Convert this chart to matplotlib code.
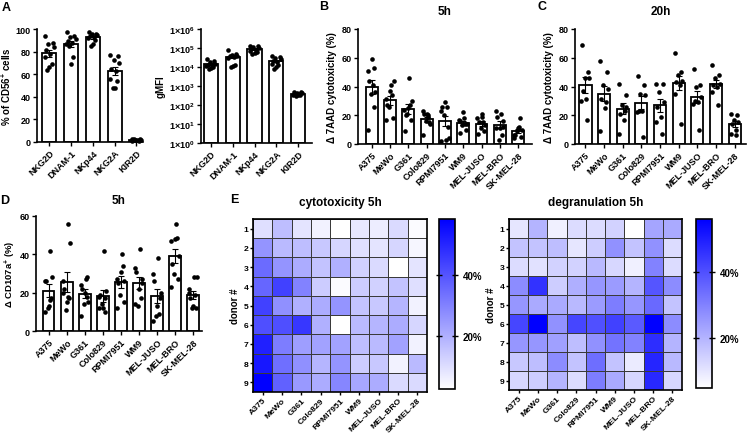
import numpy as np
import matplotlib
matplotlib.use('Agg')
import matplotlib.pyplot as plt
from matplotlib.colors import LinearSegmentedColormap

plt.rcParams['font.family'] = ['Liberation Sans', 'DejaVu Sans']
plt.rcParams['font.weight'] = 'bold'
plt.rcParams['axes.labelweight'] = 'bold'
plt.rcParams['mathtext.fontset'] = 'custom'
plt.rcParams['mathtext.rm'] = 'Liberation Sans:bold'
plt.rcParams['mathtext.it'] = 'Liberation Sans:bold'
plt.rcParams['mathtext.bf'] = 'Liberation Sans:bold'
plt.rcParams['axes.linewidth'] = 1.2
plt.rcParams['xtick.major.width'] = 1.0
plt.rcParams['ytick.major.width'] = 1.0
plt.rcParams['xtick.major.size'] = 3
plt.rcParams['ytick.major.size'] = 3

# ---- data ----
markers = ['NKG2D', 'DNAM-1', 'NKp44', 'NKG2A', 'KIR2D']
pct_cd56 = [
    [94, 88, 87, 84, 81, 78, 75, 69, 66, 64],
    [97, 94, 93, 91, 89, 88, 87, 75, 69, 85],
    [97, 96, 96, 95, 94, 93, 92, 90, 87, 85],
    [77, 76, 73, 70, 65, 63, 56, 54, 48, 48],
    [3, 2.5, 2, 2, 1.5, 1.5, 1, 1, 2, 3],
]
gmfi = [
    [2.5e4, 2.0e4, 1.8e4, 1.5e4, 1.3e4, 1.2e4, 1.1e4, 1.0e4, 9e3, 8e3],
    [8e4, 5e4, 4.5e4, 4e4, 3.8e4, 3.5e4, 3e4, 1.2e4, 1.1e4, 1.0e4],
    [1.3e5, 1.2e5, 1.1e5, 1e5, 9e4, 8e4, 7e4, 6e4, 5.5e4, 5e4],
    [4e4, 3.5e4, 3e4, 2.5e4, 2e4, 1.8e4, 1.5e4, 1.2e4, 1e4, 8e3],
    [500, 480, 450, 420, 400, 380, 350, 330, 320, 300],
]

cell_lines = ['A375', 'MeWo', 'G361', 'Colo829', 'RPMI7951', 'WM9',
              'MEL-JUSO', 'MEL-BRO', 'SK-MEL-28']
donors = ['1', '2', '3', '4', '5', '6', '7', '8', '9']

# per cell line, donor 1..9
cyto_5h = [
    [10, 26, 35, 36, 44, 41, 51, 53, 59],
    [17, 18, 26, 44, 27, 41, 31, 34, 37],
    [9, 17, 21, 30, 20, 46, 24, 27, 25],
    [6, 15, 16, 14, 21, 20, 23, 19, 21],
    [2, 12, 20, 4, 26, 3, 23, 26, 29],
    [8, 10, 13, 14, 16, 18, 17, 14, 22],
    [7, 9, 11, 13, 15, 19, 18, 15, 21],
    [11, 12, 3, 16, 19, 21, 23, 6, 11],
    [4, 5, 9, 10, 6, 12, 6, 18, 11],
]
cyto_20h = [
    [69, 50, 46, 46, 37, 31, 30, 17],
    [58, 50, 41, 38, 31, 25, 9, 29],
    [42, 34, 27, 26, 21, 17, 7, 23],
    [47, 41, 35, 34, 23, 23, 22, 5],
    [42, 42, 36, 29, 26, 19, 15, 7],
    [63, 50, 48, 44, 43, 41, 35, 14],
    [52, 41, 40, 33, 30, 29, 28, 10],
    [55, 48, 46, 42, 41, 40, 36, 27],
    [21, 20, 17, 15, 14, 10, 7, 6],
]
degran_5h = [
    [10, 17, 12, 28, 26, 42, 26, 16, 13],
    [20, 17, 11, 46, 22, 56, 26, 18, 15],
    [8, 18, 14, 15, 22, 27, 24, 28, 20],
    [12, 10, 14, 21, 19, 42, 18, 17, 12],
    [12, 15, 19, 26, 25, 40, 27, 34, 31],
    [14, 27, 13, 25, 31, 43, 33, 17, 22],
    [5, 17, 8, 20, 26, 38, 30, 9, 13],
    [23, 27, 30, 39, 35, 56, 47, 48.5, 48],
    [22, 12, 12, 28, 17, 28, 20, 19, 13],
]

W, H = 747, 435
FS = 6.5
jitter = np.array([-0.2, 0.15, -0.05, 0.2, -0.15, 0.05, -0.22, 0.1, 0.0, -0.1])
cmap = LinearSegmentedColormap.from_list('wb', ['#ffffff', '#0000ff'])


def box(x0, y0, x1, y1):
    return [x0 / W, 1 - y1 / H, (x1 - x0) / W, (y1 - y0) / H]


def style(ax):
    ax.spines['top'].set_visible(False)
    ax.spines['right'].set_visible(False)
    ax.tick_params(labelsize=FS, pad=1.5)


def bar_dots(ax, labels, data, bottom=0.0):
    for i, vals in enumerate(data):
        vals = np.asarray(vals, float)
        m = vals.mean()
        sem = vals.std(ddof=1) / np.sqrt(len(vals))
        ax.bar(i, m - bottom, bottom=bottom, width=0.65, color='white',
               edgecolor='black', linewidth=1.3, zorder=2)
        ax.scatter(i + jitter[:len(vals)], vals, s=11, color='black',
                   linewidths=0, zorder=3, clip_on=False)
        ax.errorbar(i, m, yerr=sem, color='black', capsize=2.5,
                    elinewidth=0.8, capthick=0.8, zorder=4)
    ax.set_xticks(np.arange(len(labels)))
    ax.set_xticklabels(labels, rotation=45, ha='right', rotation_mode='anchor')
    style(ax)


def heat(fig, ax, cax, data, vmin, vmax, title):
    mat = np.array(data, float).T  # rows = donors
    mesh = ax.pcolormesh(mat, cmap=cmap, vmin=vmin, vmax=vmax,
                         edgecolors='#3a3a3a', linewidth=0.6)
    ax.set_xlim(0, 9)
    ax.set_ylim(9, 0)
    ax.set_xticks(np.arange(9) + 0.5)
    ax.set_xticklabels(cell_lines, rotation=45, ha='right', rotation_mode='anchor')
    ax.set_yticks(np.arange(9) + 0.5)
    ax.set_yticklabels(donors)
    ax.tick_params(labelsize=6.1, length=2, pad=1.2)
    ax.set_ylabel('donor #', fontsize=FS + 0.5, labelpad=3)
    ax.set_title(title, fontsize=8.5, fontweight='bold', pad=10)
    cb = fig.colorbar(mesh, cax=cax, ticks=[20, 40], format='%d%%')
    cb.outline.set_linewidth(1.2)
    cax.tick_params(labelsize=FS + 0.5, direction='inout', length=4, width=1,
                    left=True, right=True)


def main():
    fig = plt.figure(figsize=(W / 100, H / 100), dpi=100)

    # A left
    ax = fig.add_axes(box(37, 30, 143, 143))
    bar_dots(ax, markers, pct_cd56)
    ax.set_xlim(-0.57, 4.3)
    ax.set_ylim(0, 100)
    ax.set_yticks([0, 20, 40, 60, 80, 100])
    ax.set_ylabel('% of CD56$^{+}$ cells', fontsize=FS + 0.5, labelpad=2)

    # A right
    ax = fig.add_axes(box(201, 30, 312, 144))
    ax.set_yscale('log')
    bar_dots(ax, markers, gmfi, bottom=1.0)
    ax.set_xlim(-0.46, 4.64)
    ax.set_ylim(1, 1e6)
    ax.set_yticks([10.0 ** k for k in range(7)])
    ax.set_yticklabels([r'$1{\times}10^{%d}$' % k for k in range(7)])
    ax.minorticks_off()
    ax.set_ylabel('gMFI', fontsize=FS + 0.5, labelpad=2)

    # B
    ax = fig.add_axes(box(358, 30, 532, 145))
    bar_dots(ax, cell_lines, cyto_5h)
    ax.set_xlim(-0.75, 8.76)
    ax.set_ylim(0, 80)
    ax.set_yticks([0, 20, 40, 60, 80])
    ax.set_ylabel('\u0394 7AAD cytotoxicity (%)', fontsize=FS + 0.5, labelpad=3)
    ax.set_title('5h', fontsize=8.5, fontweight='bold', pad=11)

    # C
    ax = fig.add_axes(box(575, 30, 746, 145))
    bar_dots(ax, cell_lines, cyto_20h)
    ax.set_xlim(-0.56, 8.61)
    ax.set_ylim(0, 80)
    ax.set_yticks([0, 20, 40, 60, 80])
    ax.set_ylabel('\u0394 7AAD cytotoxicity (%)', fontsize=FS + 0.5, labelpad=3)
    ax.set_title('20h', fontsize=8.5, fontweight='bold', pad=11)

    # D
    ax = fig.add_axes(box(36, 217, 202, 332))
    bar_dots(ax, cell_lines, degran_5h)
    ax.set_xlim(-0.7, 8.5)
    ax.set_ylim(0, 60)
    ax.set_yticks([0, 20, 40, 60])
    ax.set_ylabel('\u0394 CD107a$^{+}$ (%)', fontsize=FS + 0.3, labelpad=1)
    ax.set_title('5h', fontsize=8.5, fontweight='bold', pad=9)

    # E
    ax = fig.add_axes(box(253, 220, 427, 393))
    cax = fig.add_axes(box(439, 220, 455, 390))
    heat(fig, ax, cax, cyto_5h, 3, 58, 'cytotoxicity 5h')
    ax = fig.add_axes(box(509, 220, 682, 391))
    cax = fig.add_axes(box(696, 220, 712, 389))
    heat(fig, ax, cax, degran_5h, 5, 56, 'degranulation 5h')

    # panel letters
    for letter, x, y in [('A', 6, 8), ('B', 324, 7), ('C', 542, 7),
                         ('D', 5, 201), ('E', 234, 200)]:
        fig.text(x / W, 1 - y / H, letter, fontsize=9, fontweight='bold',
                 ha='center', va='center')

    fig.savefig('out.png', dpi=100)


if __name__ == '__main__':
    main()
